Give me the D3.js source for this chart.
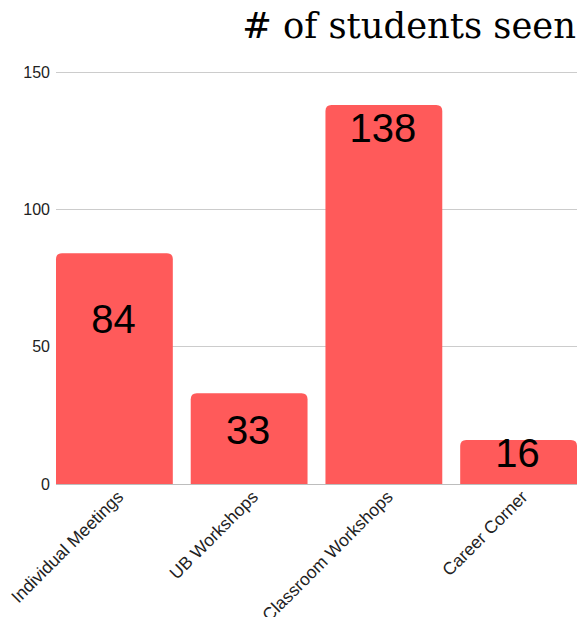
<!DOCTYPE html>
<html>
<head>
<meta charset="utf-8">
<script src="https://cdn.jsdelivr.net/npm/d3@7"></script>
<style>
html,body{margin:0;padding:0;background:#fff;}
svg{display:block;}
</style>
</head>
<body>
<svg id="chart" width="577" height="617"></svg>
<script>
const categories = ["Individual Meetings", "UB Workshops", "Classroom Workshops", "Career Corner"];
const values = [84, 33, 138, 16];
const labelAt = [55, 14.6, 124.5, 6.2];
const yTicks = [0, 50, 100, 150];
const title = "# of students seen";

const W = 577, H = 617;
const m = {left: 56, right: 0, top: 72, bottom: 133};
const svg = d3.select("#chart");

const x = d3.scaleBand().domain(categories).range([m.left, W - m.right]).paddingInner(0.133).paddingOuter(0);
const y = d3.scaleLinear().domain([0, 150]).range([H - m.bottom, m.top]);

// gridlines
svg.append("g").selectAll("line").data(yTicks).join("line")
  .attr("x1", m.left).attr("x2", W - m.right)
  .attr("y1", d => y(d)).attr("y2", d => y(d))
  .attr("stroke", d => d === 0 ? "#bdbdbd" : "#cccccc").attr("stroke-width", 1)
  .attr("shape-rendering", "crispEdges");

// y axis labels
const yAxis = d3.axisLeft(y).tickValues(yTicks).tickSize(0).tickPadding(6);
const ga = svg.append("g").attr("transform", `translate(${m.left},0)`).call(yAxis);
ga.select(".domain").remove();
ga.selectAll("text").attr("font-family", "Liberation Sans, Arial, sans-serif").attr("font-size", 16).attr("fill", "#222");

// bars with rounded top corners
const r = 6;
function barPath(x0, w, yTop, yBot) {
  return `M${x0},${yBot} L${x0},${yTop + r} Q${x0},${yTop} ${x0 + r},${yTop} L${x0 + w - r},${yTop} Q${x0 + w},${yTop} ${x0 + w},${yTop + r} L${x0 + w},${yBot} Z`;
}
svg.append("g").selectAll("path").data(values).join("path")
  .attr("d", (d, i) => barPath(x(categories[i]), x.bandwidth(), y(d), y(0)))
  .attr("fill", "#ff5a5a");

// value labels
svg.append("g").selectAll("text").data(values).join("text")
  .attr("x", (d, i) => x(categories[i]) + x.bandwidth() / 2 - 1)
  .attr("y", (d, i) => y(labelAt[i]))
  .attr("text-anchor", "middle")
  .attr("font-family", "Liberation Sans, Arial, sans-serif")
  .attr("font-size", 40)
  .attr("fill", "#000")
  .text(d => d);

// x axis labels
svg.append("g").selectAll("text").data(categories).join("text")
  .attr("transform", d => `translate(${x(d) + x.bandwidth() / 2 + 10},${y(0) + 14}) rotate(-45)`)
  .attr("text-anchor", "end")
  .attr("font-family", "Liberation Sans, Arial, sans-serif")
  .attr("font-size", 17.5)
  .attr("fill", "#222")
  .text(d => d);

// title
const t = svg.append("text")
  .attr("x", W - 1).attr("y", 38)
  .attr("text-anchor", "end")
  .attr("font-family", "DejaVu Serif, serif")
  .attr("font-size", 33)
  .attr("fill", "#000")
  .text(title);
const tw = t.node().getComputedTextLength();
t.attr("font-size", 33 * 334 / tw);
</script>
</body>
</html>
